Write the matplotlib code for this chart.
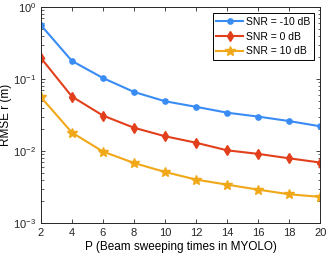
import numpy as np
import matplotlib
matplotlib.use("Agg")
import matplotlib.pyplot as plt

plt.rcParams['font.family'] = ['Liberation Sans', 'DejaVu Sans']
plt.rcParams['mathtext.fontset'] = 'custom'
plt.rcParams['mathtext.rm'] = 'Liberation Sans'

p = [2, 4, 6, 8, 10, 12, 14, 16, 18, 20]
rmse_m10 = [0.56, 0.178, 0.103, 0.066, 0.049, 0.041, 0.034, 0.030, 0.026, 0.022]
rmse_0 = [0.196, 0.057, 0.031, 0.021, 0.016, 0.013, 0.0102, 0.0091, 0.0079, 0.0069]
rmse_10 = [0.056, 0.018, 0.0098, 0.0068, 0.0051, 0.0040, 0.0034, 0.0029, 0.0025, 0.0023]
labels = ['SNR = -10 dB', 'SNR = 0 dB', 'SNR = 10 dB']

fig = plt.figure(figsize=(3.27, 2.58), dpi=100)
ax = fig.add_axes([0.125, 0.136, 0.854, 0.837])

ax.plot(p, rmse_m10, '-o', color='#3a8cf5', lw=1.5, ms=3.8, label=labels[0])
ax.plot(p, rmse_0, '-d', color='#e2401c', lw=1.5, ms=5, label=labels[1])
ax.plot(p, rmse_10, '-*', color='#f0a818', lw=1.5, ms=7.5, label=labels[2])

ax.set_yscale('log')
ax.set_ylim(1e-3, 1)
ax.set_xlim(2, 20)
ax.set_xticks(p)
ax.tick_params(which='both', direction='in', top=True, right=True, labelsize=8, colors='#262626')
ax.tick_params(which='major', length=3, width=0.6)
ax.tick_params(which='minor', length=1.8, width=0.5)
for s in ax.spines.values():
    s.set_linewidth(0.7)
    s.set_color('#262626')

ax.set_xlabel('P (Beam sweeping times in MYOLO)', fontsize=8.5, labelpad=2)
ax.set_ylabel('RMSE r (m)', fontsize=8.5, labelpad=1)

leg = ax.legend(loc='upper right', fontsize=7.5, fancybox=False, edgecolor='black',
                framealpha=1, borderaxespad=0.6, handlelength=2.6, handletextpad=0.25,
                labelspacing=0.45, borderpad=0.35)
leg.get_frame().set_linewidth(0.7)

fig.savefig('out.png', dpi=100)
